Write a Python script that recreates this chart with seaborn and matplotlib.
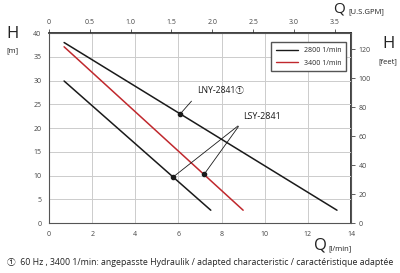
import pandas as pd
import matplotlib.pyplot as plt
import seaborn as sns
from matplotlib.lines import Line2D

# curve end points (Q in l/min, H in m)
curves = ['LNY-2841 2800', 'LNY-2841 3400', 'LSY-2841 2800']
speeds = ['2800 1/min', '3400 1/min', '2800 1/min']
q_start = [0.7, 0.7, 0.7]
h_start = [38.0, 37.1, 29.9]
q_end = [13.35, 9.0, 7.5]
h_end = [2.7, 2.7, 2.7]

# marked operating points
point_q = [6.07, 5.73, 7.19]
point_h = [22.9, 9.6, 10.25]

x_ticks = [0, 2, 4, 6, 8, 10, 12, 14]
y_ticks = [0, 5, 10, 15, 20, 25, 30, 35, 40]
gpm_ticks = [0, 0.5, 1.0, 1.5, 2.0, 2.5, 3.0, 3.5]
feet_ticks = [0, 20, 40, 60, 80, 100, 120]

LPM_PER_GPM = 3.78541
FT_PER_M = 3.28084

rows = []
for c, s, q0, h0, q1, h1 in zip(curves, speeds, q_start, h_start, q_end, h_end):
    rows.append({'curve': c, 'speed': s, 'Q': q0, 'H': h0})
    rows.append({'curve': c, 'speed': s, 'Q': q1, 'H': h1})
df = pd.DataFrame(rows)

sns.set_theme(style="white")
plt.rcParams['font.family'] = ['Open Sans', 'Noto Sans CJK SC', 'DejaVu Sans']
plt.rcParams['font.size'] = 5

fig = plt.figure(figsize=(4.0, 2.73), dpi=100)
ax = fig.add_axes([0.1225, 0.183, 0.755, 0.696])

palette = {'2800 1/min': '#1a1a1a', '3400 1/min': '#c0282d'}
sns.lineplot(data=df, x='Q', y='H', hue='speed', units='curve', estimator=None,
             palette=palette, linewidth=1.1, ax=ax, legend=False, sort=False)

ax.scatter(point_q, point_h, color='#1a1a1a', s=9, marker='o', zorder=5)

ax.set_xlim(0, 14)
ax.set_ylim(0, 40)
ax.set_xticks(x_ticks)
ax.set_yticks(y_ticks)
ax.grid(True, color='#cccccc', linewidth=0.7)
ax.tick_params(axis='both', labelsize=5, colors='#444444', length=3, width=0.6, pad=2.5)
for sp in ax.spines.values():
    sp.set_color('#555555')
    sp.set_linewidth(0.8)
ax.set_xlabel('')
ax.set_ylabel('')

# secondary axes
top = ax.secondary_xaxis('top', functions=(lambda q: q / LPM_PER_GPM, lambda g: g * LPM_PER_GPM))
top.set_xticks(gpm_ticks)
top.set_xticklabels(['0', '0.5', '1.0', '1.5', '2.0', '2.5', '3.0', '3.5'])
top.tick_params(labelsize=5, colors='#444444', length=3, width=0.6, pad=2)
right = ax.secondary_yaxis('right', functions=(lambda h: h * FT_PER_M, lambda f: f / FT_PER_M))
right.set_yticks(feet_ticks)
right.tick_params(labelsize=5, colors='#444444', length=3, width=0.6, pad=2.5)

# legend
handles = [Line2D([], [], color=palette[k], linewidth=1.0) for k in palette]
ax.legend(handles, list(palette), loc='upper right', fontsize=5, frameon=True,
          fancybox=False, edgecolor='#555555', framealpha=1, borderpad=0.7,
          handlelength=3.2, labelspacing=0.8, bbox_to_anchor=(0.995, 0.97))

# annotations
ax.annotate('', xy=(point_q[0], point_h[0]), xytext=(6.69, 26.1),
            arrowprops=dict(arrowstyle='-', color='#1a1a1a', lw=0.6))
ax.text(6.85, 27.8, 'LNY-2841\u2460', fontsize=6.2, va='center', ha='left', color='#1a1a1a')
for q, h in zip(point_q[1:], point_h[1:]):
    ax.annotate('', xy=(q, h), xytext=(8.86, 20.8),
                arrowprops=dict(arrowstyle='-', color='#1a1a1a', lw=0.6))
ax.text(9.0, 22.4, 'LSY-2841', fontsize=6.4, va='center', ha='left', color='#1a1a1a')

# axis titles
fig.text(0.03, 0.875, 'H', fontsize=12, ha='center', va='center', color='#222222')
fig.text(0.03, 0.815, '[m]', fontsize=5.5, ha='center', va='center', color='#222222')
fig.text(0.97, 0.84, 'H', fontsize=12, ha='center', va='center', color='#222222')
fig.text(0.97, 0.775, '[feet]', fontsize=5.5, ha='center', va='center', color='#222222')
fig.text(0.848, 0.968, 'Q', fontsize=11, ha='center', va='center', color='#222222')
fig.text(0.87, 0.958, '[U.S.GPM]', fontsize=5.5, ha='left', va='center', color='#222222')
fig.text(0.80, 0.1, 'Q', fontsize=12, ha='center', va='center', color='#222222')
fig.text(0.822, 0.09, '[l/min]', fontsize=5.5, ha='left', va='center', color='#222222')

fig.text(0.5, 0.04, '\u2460  60 Hz , 3400 1/min: angepasste Hydraulik / adapted characteristic / caract\u00e9ristique adapt\u00e9e',
         fontsize=6.3, ha='center', va='center', color='#222222')

fig.savefig('out.png', dpi=100)
